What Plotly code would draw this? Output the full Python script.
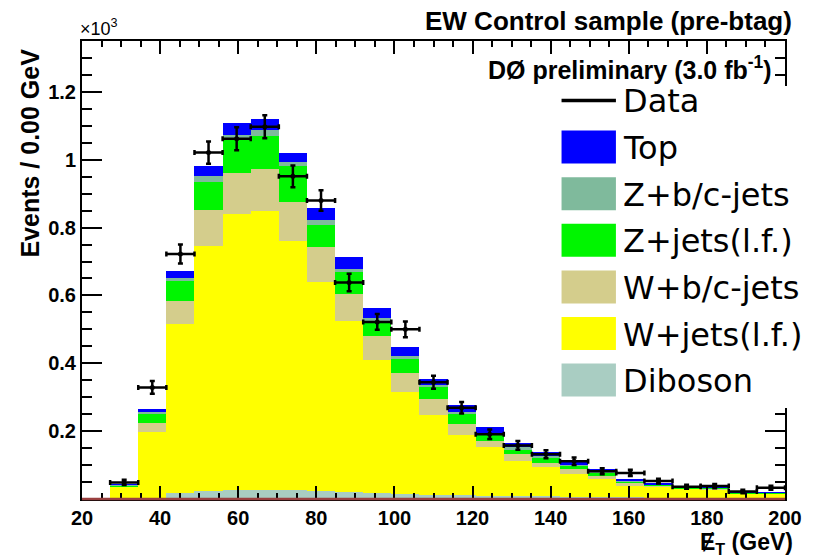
import plotly.graph_objects as go

# ---------------- data (events per bin) ----------------
x_centers = [23.6, 30.8, 38.0, 45.2, 52.4, 59.6, 66.8, 74.0, 81.2, 88.4, 95.6, 102.8,
             110.0, 117.2, 124.4, 131.6, 138.8, 146.0, 153.2, 160.4, 167.6, 174.8,
             182.0, 189.2, 196.4]
bin_width = 7.2

diboson = [0, 0, 2, 17, 25, 27, 28, 27, 25, 22, 18, 15, 13, 11, 10, 9, 8, 7, 6, 5, 4, 4, 3, 3, 2]
w_lf    = [0, 36, 196, 498, 722, 814, 821, 733, 615, 503, 393, 301, 236, 177, 144, 103, 85, 68, 54, 36, 34, 27, 26, 12, 13]
w_bc    = [0, 1, 27, 69, 106, 120, 125, 116, 103, 79, 69, 56, 46, 33, 18, 20, 12, 12, 8, 5, 2, 1, 2, 1, 1]
z_lf    = [0, 4, 27, 58, 82, 98, 96, 106, 64, 65, 39, 42, 36, 31, 19, 15, 18, 13, 10, 7, 3, 2, 2, 2, 2]
z_bc    = [0, 0.5, 5, 8, 17, 15, 17, 12, 15, 8, 15, 7, 5, 5, 4, 5, 5, 3, 3, 2, 1, 1, 0.5, 0.5, 0.5]
top     = [0, 0.5, 7, 22, 30, 34, 34, 27, 37, 35, 30, 28, 17, 20, 16, 12, 10, 5, 6, 3, 2, 1, 0.5, 0.5, 0.5]

data     = [None, 49, 329, 722, 1021, 1062, 1097, 951, 880, 638, 522, 500, 344, 269, 191,
            158, 132, 111, 82, 77, 53, 36, 38, 22, 33]
data_err = [0, 8, 19, 28, 33, 34, 34, 32, 30, 26, 23, 23, 19, 17, 14, 13, 12, 11, 9, 9, 7, 6, 6, 5, 6]

y_tickvals = [0.2, 0.4, 0.6, 0.8, 1.0, 1.2]
y_ticktext = ["0.2", "0.4", "0.6", "0.8", "1", "1.2"]
x_tickvals = [20, 40, 60, 80, 100, 120, 140, 160, 180, 200]

SCALE = 1000.0  # axis shown in units of 10^3

stack = [
    ("Diboson", diboson, "#a9cdc2"),
    ("W+jets(l.f.)", w_lf, "#ffff00"),
    ("W+b/c-jets", w_bc, "#d4cd8c"),
    ("Z+jets(l.f.)", z_lf, "#00f500"),
    ("Z+b/c-jets", z_bc, "#7fba9c"),
    ("Top", top, "#0000ff"),
]

fig = go.Figure()
for name, vals, col in stack:
    fig.add_trace(go.Bar(
        x=x_centers, y=[v / SCALE for v in vals], width=bin_width, name=name,
        marker=dict(color=col, line=dict(width=0)), showlegend=False))

fig.add_trace(go.Scatter(
    x=x_centers, y=[(v / SCALE if v is not None else None) for v in data],
    mode="markers", name="Data", showlegend=False,
    marker=dict(color="black", size=5),
    error_x=dict(type="constant", value=bin_width / 2, color="black", thickness=2.5, width=2.5),
    error_y=dict(type="data", array=[e / SCALE for e in data_err], color="black", thickness=2.5, width=2.5),
))

# ---------------- layout ----------------
L, R, T, B = 82, 21, 41, 58
W, H = 814, 557
PW, PH = W - L - R, H - T - B

def px(xp):
    return (xp - L) / PW

def py(yp):
    return (H - B - yp) / PH

tickfont = dict(family="Liberation Sans", size=20, color="black", weight="bold")

fig.update_layout(
    width=W, height=H, margin=dict(l=L, r=R, t=T, b=B),
    paper_bgcolor="white", plot_bgcolor="white",
    barmode="stack", bargap=0, showlegend=False,
    xaxis=dict(range=[20, 200], tickvals=x_tickvals, ticks="inside", ticklen=13, tickwidth=1.5,
               tickcolor="black", showline=True, linecolor="black", linewidth=1.5, mirror="ticks",
               showgrid=False, zeroline=False, tickfont=tickfont,
               minor=dict(dtick=5, ticks="inside", ticklen=6, tickwidth=1.5, tickcolor="black")),
    yaxis=dict(range=[0, 1.35], tickvals=y_tickvals, ticktext=y_ticktext, ticks="inside",
               ticklen=20, tickwidth=1.5, tickcolor="black", showline=True, linecolor="black",
               linewidth=2, mirror="ticks", showgrid=False, zeroline=False, tickfont=tickfont,
               minor=dict(dtick=0.05, tick0=0, ticks="inside", ticklen=10, tickwidth=1.5,
                          tickcolor="black")),
)

shapes = []
annotations = []

# reddish baseline
shapes.append(dict(type="line", xref="paper", yref="paper", x0=0, x1=1, y0=0, y1=0,
                   line=dict(color="#9a4040", width=2.5), layer="above"))

# legend box
shapes.append(dict(type="rect", xref="paper", yref="paper", x0=px(555), x1=px(814),
                   y0=py(408), y1=py(86), fillcolor="white", line=dict(width=0), layer="above"))

leg_font = dict(family="DejaVu Sans", size=32, color="black")
leg_y0, leg_step = 100.5, 46.6
sw_x0, sw_x1, sw_h = 567, 622, 33
text_x = 627
# Data entry
shapes.append(dict(type="line", xref="paper", yref="paper", x0=px(sw_x0), x1=px(sw_x1),
                   y0=py(leg_y0), y1=py(leg_y0), line=dict(color="black", width=3.5), layer="above"))
annotations.append(dict(text="Data", xref="paper", yref="paper", x=px(text_x), y=py(leg_y0 + 1),
                        xanchor="left", yanchor="middle", showarrow=False, font=leg_font))
for i, (name, vals, col) in enumerate(reversed(stack)):
    yc = leg_y0 + leg_step * (i + 1)
    shapes.append(dict(type="rect", xref="paper", yref="paper", x0=px(sw_x0), x1=px(sw_x1),
                       y0=py(yc + sw_h / 2), y1=py(yc - sw_h / 2), fillcolor=col,
                       line=dict(width=0), layer="above"))
    annotations.append(dict(text=name, xref="paper", yref="paper", x=px(text_x), y=py(yc + 1),
                            xanchor="left", yanchor="middle", showarrow=False, font=leg_font))

bold = dict(family="Liberation Sans", color="black", weight="bold")
annotations += [
    dict(text="EW Control sample (pre-btag)", xref="paper", yref="paper", x=px(802), y=py(21),
         xanchor="right", yanchor="middle", showarrow=False, font=dict(size=26, **bold)),
    dict(text="DØ preliminary (3.0 fb<sup>-1</sup>)", xref="paper", yref="paper", x=px(782),
         y=py(68), xanchor="right", yanchor="middle", showarrow=False, font=dict(size=25, **bold)),
    dict(text="×10<sup>3</sup>", xref="paper", yref="paper", x=px(78), y=py(27),
         xanchor="left", yanchor="middle", showarrow=False,
         font=dict(family="Liberation Sans", size=18, color="black")),
    dict(text="Events / 0.00 GeV", xref="paper", yref="paper", x=px(29), y=py(153),
         xanchor="center", yanchor="middle", textangle=-90, showarrow=False,
         font=dict(size=25, **bold)),
    dict(text="\u0246<sub>T</sub> (GeV)", xref="paper", yref="paper", x=px(803), y=py(543),
         xanchor="right", yanchor="middle", showarrow=False, font=dict(size=23, **bold)),
]

fig.update_layout(shapes=shapes, annotations=annotations)
fig.write_html("out.html")
